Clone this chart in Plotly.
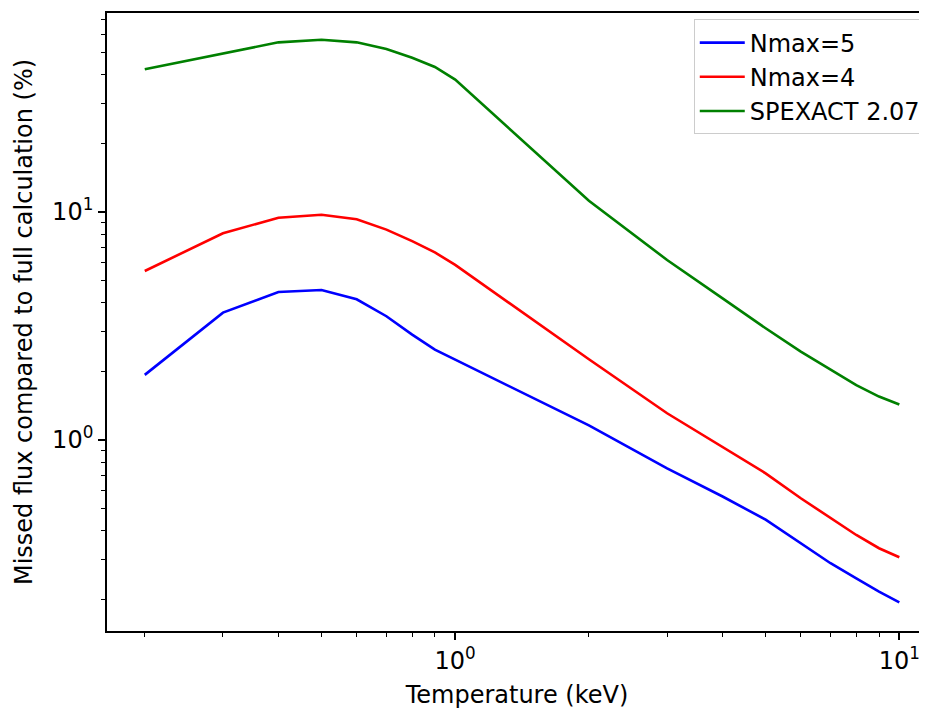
import plotly.graph_objects as go

# Temperature grid (keV) and missed flux (%) per model
temps = [0.2, 0.3, 0.4, 0.5, 0.6, 0.7, 0.8, 0.9, 1, 2, 3, 4, 5, 6, 7, 8, 9, 10]
nmax5 = [1.93, 3.62, 4.46, 4.55, 4.14, 3.49, 2.90, 2.49, 2.25, 1.16, 0.75, 0.565,
         0.447, 0.352, 0.288, 0.247, 0.216, 0.194]
nmax4 = [5.51, 8.07, 9.44, 9.73, 9.29, 8.37, 7.45, 6.65, 5.86, 2.26, 1.31, 0.935,
         0.714, 0.555, 0.453, 0.383, 0.335, 0.306]
spexact = [42.3, 49.7, 55.5, 57.0, 55.5, 51.9, 47.5, 43.3, 38.1, 11.2, 6.16, 4.18,
           3.09, 2.44, 2.03, 1.74, 1.55, 1.43]

series = [
    ("Nmax=5", nmax5, "#0000ff"),
    ("Nmax=4", nmax4, "#ff0000"),
    ("SPEXACT 2.07", spexact, "#008000"),
]

major_vals = [1, 10]
major_text = ["10<sup>0</sup>", "10<sup>1</sup>"]
x_minor = [0.2, 0.3, 0.4, 0.5, 0.6, 0.7, 0.8, 0.9, 2, 3, 4, 5, 6, 7, 8, 9]
y_minor = [0.2, 0.3, 0.4, 0.5, 0.6, 0.7, 0.8, 0.9, 2, 3, 4, 5, 6, 7, 8, 9,
           20, 30, 40, 50, 60, 70]

x_range = [-0.784, 1.0623]
y_range = [-0.838, 1.873]
fsize = 24

fig = go.Figure()
for name, vals, color in series:
    fig.add_trace(go.Scatter(
        x=temps, y=vals, mode="lines", name=name, legendgroup=name,
        line=dict(color=color, width=2.6),
    ))

axis_style = dict(
    type="log",
    showgrid=False,
    zeroline=False,
    automargin=False,
    showline=True,
    linecolor="black",
    linewidth=1.7,
    ticks="outside",
    ticklen=7,
    tickwidth=1.6,
    tickcolor="black",
    tickmode="array",
    tickvals=major_vals,
    ticktext=major_text,
    tickfont=dict(size=fsize, color="black"),
)

minor_style = dict(tickmode="array", ticks="outside", ticklen=4, tickwidth=1.2,
                   tickcolor="black", showgrid=False)

fig.update_xaxes(
    **axis_style, range=x_range, mirror=True,
    minor=dict(**minor_style, tickvals=x_minor),
    title=dict(text="Temperature (keV)", font=dict(size=fsize, color="black"),
               standoff=15),
)
fig.update_yaxes(
    **axis_style, range=y_range,
    minor=dict(**minor_style, tickvals=y_minor),
    title=dict(text="Missed flux compared to full calculation (%)",
               font=dict(size=fsize, color="black"), standoff=13),
)

# the page body adds an 8px offset, so the figure is sized to the window minus it
fig.update_layout(
    width=919,
    height=701,
    margin=dict(l=99, r=0, t=5, b=78),
    paper_bgcolor="white",
    plot_bgcolor="white",
    font=dict(family="DejaVu Sans", size=fsize, color="black"),
    showlegend=True,
    legend=dict(
        x=0.9985, xanchor="right", y=0.9895, yanchor="top",
        bgcolor="rgba(255,255,255,0.8)", bordercolor="#cccccc", borderwidth=1,
        font=dict(size=fsize), itemwidth=45, tracegroupgap=0,
    ),
)

fig.write_html("out.html")
